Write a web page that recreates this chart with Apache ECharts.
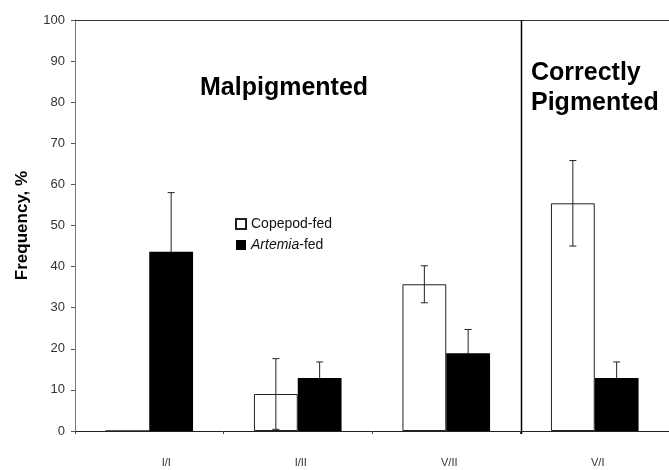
<!DOCTYPE html>
<html>
<head>
<meta charset="utf-8">
<style>html,body{margin:0;padding:0;background:#fff;}#c{width:669px;height:470px;}</style>
<script src="https://cdn.jsdelivr.net/npm/echarts@6/dist/echarts.min.js"></script>
</head>
<body>
<div id="c"></div>
<script>
const categories = ['I/I', 'I/II', 'V/II', 'V/I'];
const copepod = [0, 9, 35.7, 55.4];
const copepodErr = [0, 8.6, 4.5, 10.4];
const artemia = [43.6, 12.9, 18.9, 12.9];
const artemiaErr = [14.4, 3.9, 5.8, 3.9];
const yTicks = { min: 0, max: 100, interval: 10 };
const dividerBefore = 'V/I';

const FONT = 'Liberation Sans, Arial, Helvetica, sans-serif';
const GAP = 0.41;

function errRender(sign) {
  return function (params, api) {
    const x = api.value(0), v = api.value(1), e = api.value(2);
    if (!e) return null;
    const band = api.size([1, 0])[0];
    const off = band * (1 - GAP) / 4 * sign;
    const hi = api.coord([x, v + e]);
    const lo = api.coord([x, Math.max(0, v - e)]);
    const cx = hi[0] + off;
    const cap = 3.5;
    const style = { stroke: '#222', lineWidth: 1 };
    return {
      type: 'group',
      children: [
        { type: 'line', shape: { x1: cx, y1: hi[1], x2: cx, y2: lo[1] }, style },
        { type: 'line', shape: { x1: cx - cap, y1: hi[1], x2: cx + cap, y2: hi[1] }, style },
        { type: 'line', shape: { x1: cx - cap, y1: lo[1], x2: cx + cap, y2: lo[1] }, style }
      ]
    };
  };
}

function dividerRender(params, api) {
  const x = api.value(0);
  const band = api.size([1, 0])[0];
  const top = api.coord([x, yTicks.max]);
  const bot = api.coord([x, yTicks.min]);
  const bx = Math.round(top[0] - band / 2) + 0.5;
  return {
    type: 'line',
    shape: { x1: bx, y1: top[1], x2: bx, y2: bot[1] + 3 },
    style: { stroke: '#000', lineWidth: 1.5 }
  };
}

const chart = echarts.init(document.getElementById('c'));
chart.setOption({
  animation: false,
  textStyle: { fontFamily: FONT },
  title: [
    { text: 'Malpigmented', left: 195, top: 71, textStyle: { fontFamily: FONT, fontSize: 25, fontWeight: 'bold', color: '#000' } },
    { text: 'Correctly\nPigmented', left: 526, top: 53, textStyle: { fontFamily: FONT, fontSize: 25, fontWeight: 'bold', color: '#000', lineHeight: 30 } }
  ],
  legend: {
    orient: 'vertical',
    left: 230,
    top: 212,
    itemWidth: 10,
    itemHeight: 10,
    itemGap: 7,
    icon: 'rect',
    data: ['Copepod-fed', 'Artemia-fed'],
    formatter: function (name) {
      return name === 'Artemia-fed' ? '{i|Artemia}{n|-fed}' : '{n|' + name + '}';
    },
    textStyle: {
      fontFamily: FONT, fontSize: 14, color: '#111',
      rich: {
        i: { fontFamily: FONT, fontSize: 14, fontStyle: 'italic', color: '#111' },
        n: { fontFamily: FONT, fontSize: 14, color: '#111' }
      }
    }
  },
  grid: { left: 75, top: 20, width: 596, height: 411, containLabel: false },
  xAxis: [
    {
      type: 'category',
      data: categories,
      boundaryGap: true,
      axisLine: { lineStyle: { color: '#222', width: 1 } },
      axisTick: { show: true, length: 3, inside: false, lineStyle: { color: '#444' } },
      axisLabel: {
        margin: 26, fontSize: 11, color: '#333', fontFamily: FONT,
        formatter: function (v, i) { return i === 0 ? '{s|' + v + '}' : '{n|' + v + '}'; },
        rich: {
          s: { fontFamily: FONT, fontSize: 11, color: '#333', padding: [0, 0, 0, 34] },
          n: { fontFamily: FONT, fontSize: 11, color: '#333', padding: [0, 0, 0, 6] }
        }
      },
      splitLine: { show: false }
    },
    {
      type: 'category',
      data: categories,
      position: 'top',
      axisLine: { show: true, lineStyle: { color: '#333', width: 1 } },
      axisTick: { show: false },
      axisLabel: { show: false },
      splitLine: { show: false }
    }
  ],
  yAxis: {
    type: 'value',
    min: yTicks.min,
    max: yTicks.max,
    interval: yTicks.interval,
    name: 'Frequency, %',
    nameLocation: 'middle',
    nameGap: 44,
    nameTextStyle: { fontFamily: FONT, fontSize: 17, fontWeight: 'bold', color: '#000' },
    axisLine: { show: true, lineStyle: { color: '#777', width: 1 } },
    axisTick: { show: true, length: 4, lineStyle: { color: '#555' } },
    axisLabel: { fontSize: 13, color: '#333', margin: 10, fontFamily: FONT },
    splitLine: { show: false }
  },
  series: [
    {
      name: 'Copepod-fed',
      type: 'bar',
      data: copepod,
      barGap: '0%',
      barCategoryGap: (GAP * 100) + '%',
      itemStyle: { color: '#fff', borderColor: '#222', borderWidth: 1 },
      z: 2
    },
    {
      name: 'Artemia-fed',
      type: 'bar',
      data: artemia,
      barGap: '0%',
      barCategoryGap: (GAP * 100) + '%',
      itemStyle: { color: '#000', borderColor: '#000', borderWidth: 0 },
      z: 3
    },
    {
      type: 'custom',
      renderItem: errRender(-1),
      data: categories.map((c, i) => [i, copepod[i], copepodErr[i]]),
      z: 5,
      silent: true
    },
    {
      type: 'custom',
      renderItem: errRender(1),
      data: categories.map((c, i) => [i, artemia[i], artemiaErr[i]]),
      z: 1,
      silent: true
    },
    {
      type: 'custom',
      renderItem: dividerRender,
      data: [[categories.indexOf(dividerBefore)]],
      z: 6,
      silent: true,
      clip: false
    }
  ]
});
</script>
</body>
</html>
